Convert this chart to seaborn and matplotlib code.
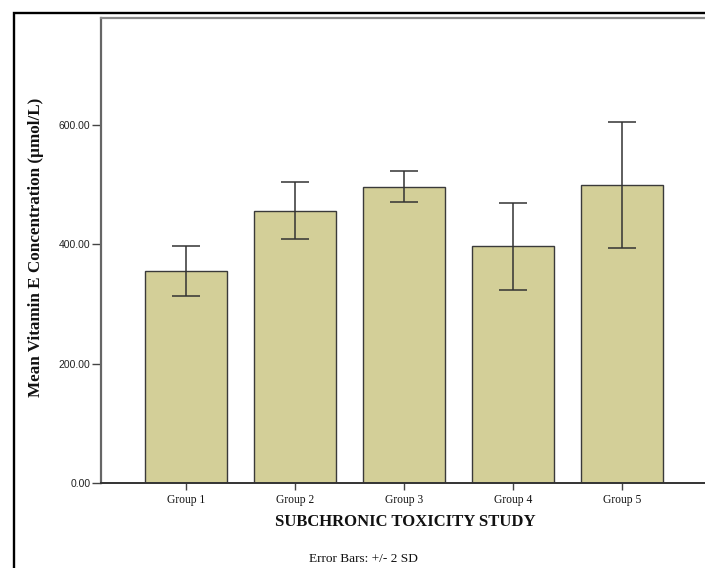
import matplotlib
matplotlib.use("Agg")
import matplotlib.pyplot as plt
from matplotlib.patches import Rectangle
import seaborn as sns
import pandas as pd

# Group means and error bar half-widths (2 SD), µmol/L
groups = ["Group 1", "Group 2", "Group 3", "Group 4", "Group 5"]
means = [355.2, 456.5, 496.2, 396.3, 499.0]
two_sd = [41.7, 47.2, 26.0, 73.2, 105.4]
y_ticks = [0, 200, 400, 600]

df = pd.DataFrame({"group": groups, "mean": means, "err": two_sd})

sns.set_theme(style="white")
plt.rcParams["font.family"] = ["Liberation Serif", "DejaVu Serif"]

fig = plt.figure(figsize=(7.05, 5.68), dpi=100)
ax = fig.add_axes([0.1428, 0.1496, 0.8600, 0.8187])

bar_color = "#D3CF98"
edge = "#3a3a3a"
sns.barplot(data=df, x="group", y="mean", order=groups, color=bar_color,
            saturation=1, width=0.75, edgecolor=edge, linewidth=1.0,
            errorbar=None, ax=ax)

xs = list(range(len(groups)))
ax.errorbar(xs, df["mean"], yerr=df["err"], fmt="none", ecolor="#333333",
            elinewidth=1.1, capsize=9.8, capthick=1.1, zorder=5)

ax.set_xlim(-0.78, 4.78)
ax.set_ylim(0, 779)
ax.set_yticks(y_ticks)
ax.set_yticklabels([f"{v:.2f}" for v in y_ticks], fontfamily="Liberation Sans",
                   fontsize=7.5, color="#222222")
ax.set_xticks(xs)
ax.set_xticklabels(groups, fontsize=8.3, color="#111111")

ax.tick_params(axis="y", direction="out", length=6.5, width=1,
               color="#444444", pad=1, left=True)
ax.tick_params(axis="x", direction="out", length=5, width=1,
               color="#444444", pad=3, bottom=True)

for side in ["left", "top", "bottom"]:
    ax.spines[side].set_visible(True)
ax.spines["right"].set_visible(False)
ax.spines["left"].set_color("#666666")
ax.spines["left"].set_linewidth(1.6)
ax.spines["top"].set_color("#8a8a8a")
ax.spines["top"].set_linewidth(1.6)
ax.spines["bottom"].set_color("#333333")
ax.spines["bottom"].set_linewidth(1.4)

ax.set_xlabel("")
ax.set_ylabel("")

fig.text(0.5745, 1 - 522 / 568, "SUBCHRONIC TOXICITY STUDY", ha="center",
         va="center", fontsize=12, fontweight="bold", color="#111111")
fig.text(36 / 705, 1 - 247 / 568, "Mean Vitamin E Concentration (µmol/L)",
         ha="center", va="center", rotation=90, fontsize=12.3,
         fontweight="bold", color="#111111")
fig.text(363 / 705, 1 - 559 / 568, "Error Bars: +/- 2 SD", ha="center",
         va="center", fontsize=9.6, color="#111111")

# outer chart frame
fig.patches.append(Rectangle((13.5 / 705, -0.1), 1.2, (1 - 12.7 / 568) + 0.1,
                             transform=fig.transFigure, fill=False,
                             edgecolor="black", linewidth=1.7, zorder=0))

fig.savefig("out.png", dpi=100)
